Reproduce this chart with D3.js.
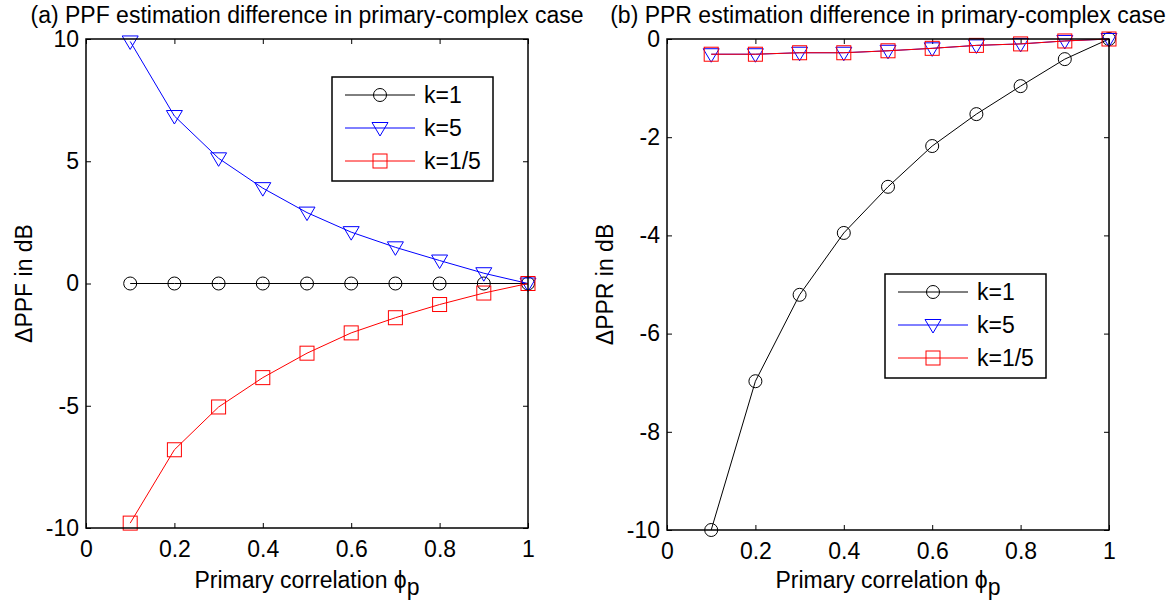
<!DOCTYPE html>
<html>
<head>
<meta charset="utf-8">
<script src="https://cdn.jsdelivr.net/npm/d3@7"></script>
<style>
  body { margin: 0; background: #fff; }
  text { font-family: "Liberation Sans", Arial, sans-serif; fill: #000; }
</style>
</head>
<body>
<svg id="chart" width="1172" height="606"></svg>
<script>
// primary correlation values
const phi = [0.1, 0.2, 0.3, 0.4, 0.5, 0.6, 0.7, 0.8, 0.9, 1.0];
const xTicks = [0, 0.2, 0.4, 0.6, 0.8, 1];

// (a) PPF difference
const ppfK1 = [0, 0, 0, 0, 0, 0, 0, 0, 0, 0];
const ppfK5 = [9.9, 6.85, 5.12, 3.9, 2.9, 2.1, 1.48, 0.94, 0.42, 0];
const ppfK15 = [-9.8, -6.8, -5.05, -3.85, -2.85, -2.02, -1.4, -0.86, -0.39, 0];
const ppfTicks = [-10, -5, 0, 5, 10];

// (b) PPR difference
const pprK1 = [-10, -6.97, -5.21, -3.95, -3.01, -2.18, -1.53, -0.96, -0.41, 0];
const pprK5 = [-0.31, -0.31, -0.28, -0.28, -0.24, -0.19, -0.13, -0.1, -0.04, 0];
const pprK15 = [-0.31, -0.31, -0.28, -0.28, -0.24, -0.19, -0.13, -0.1, -0.04, 0];
const pprTicks = [-10, -8, -6, -4, -2, 0];

const seriesNames = ["k=1", "k=5", "k=1/5"];
const seriesColors = ["#000000", "#0000ff", "#ff0000"];
const seriesMarkers = ["circle", "triangle", "square"];

const FS = 23;
const svg = d3.select("#chart");

function drawMarker(g, type, x, y, color) {
    if (type === "circle") {
        g.append("circle").attr("cx", x).attr("cy", y).attr("r", 6.5)
            .attr("fill", "none").attr("stroke", color).attr("stroke-width", 1);
    } else if (type === "triangle") {
        g.append("path")
            .attr("d", `M${x - 8},${y - 5.5}L${x + 8},${y - 5.5}L${x},${y + 8}Z`)
            .attr("fill", "none").attr("stroke", color).attr("stroke-width", 1);
    } else {
        g.append("rect").attr("x", x - 7).attr("y", y - 7).attr("width", 14).attr("height", 14)
            .attr("fill", "none").attr("stroke", color).attr("stroke-width", 1);
    }
}

function drawPanel(opt) {
    const { left, right, top, bottom, yDomain, yTicks, series, title, yLabel, legend } = opt;
    const x = d3.scaleLinear().domain([0, 1]).range([left, right]);
    const y = d3.scaleLinear().domain(yDomain).range([bottom, top]);
    const g = svg.append("g");
    const fmt = d => String(d);

    // inward ticks on all four sides
    const tickLen = 5;
    g.append("g").attr("transform", `translate(0,${bottom})`)
        .call(d3.axisBottom(x).tickValues(xTicks).tickSizeInner(-tickLen).tickSizeOuter(0).tickPadding(13).tickFormat(fmt))
        .call(s => s.select(".domain").remove())
        .call(s => s.selectAll("text").attr("dy", "0.71em"));
    g.append("g").attr("transform", `translate(0,${top})`)
        .call(d3.axisTop(x).tickValues(xTicks).tickSizeInner(-tickLen).tickSizeOuter(0).tickFormat(""))
        .call(s => s.select(".domain").remove());
    g.append("g").attr("transform", `translate(${left},0)`)
        .call(d3.axisLeft(y).tickValues(yTicks).tickSizeInner(-tickLen).tickSizeOuter(0).tickPadding(7).tickFormat(fmt))
        .call(s => s.select(".domain").remove());
    g.append("g").attr("transform", `translate(${right},0)`)
        .call(d3.axisRight(y).tickValues(yTicks).tickSizeInner(-tickLen).tickSizeOuter(0).tickFormat(""))
        .call(s => s.select(".domain").remove());
    g.selectAll(".tick line").attr("stroke", "#000");
    g.selectAll(".tick text").attr("fill", "#000")
        .style("font-family", "'Liberation Sans', Arial, sans-serif").style("font-size", FS + "px");

    // series
    const line = d3.line().x((d, i) => x(phi[i])).y(d => y(d));
    series.forEach((vals, k) => {
        g.append("path").datum(vals).attr("d", line)
            .attr("fill", "none").attr("stroke", seriesColors[k]).attr("stroke-width", 1);
        vals.forEach((v, i) => drawMarker(g, seriesMarkers[k], x(phi[i]), y(v), seriesColors[k]));
    });

    // axes box
    g.append("rect").attr("x", left).attr("y", top)
        .attr("width", right - left).attr("height", bottom - top)
        .attr("fill", "none").attr("stroke", "#000").attr("stroke-width", 1.5);

    // title and labels
    g.append("text").attr("x", (left + right) / 2).attr("y", 23)
        .attr("text-anchor", "middle").attr("font-size", FS).text(title);
    const xl = g.append("text").attr("x", (left + right) / 2).attr("y", 588)
        .attr("text-anchor", "middle").attr("font-size", FS);
    xl.append("tspan").text("Primary correlation ϕ");
    xl.append("tspan").attr("dy", 7).text("p");
    g.append("text")
        .attr("transform", `translate(${left - 54},${(top + bottom) / 2}) rotate(-90)`)
        .attr("text-anchor", "middle").attr("font-size", FS).text(yLabel);

    // legend
    const lg = g.append("g");
    lg.append("rect").attr("x", legend.x).attr("y", legend.y)
        .attr("width", 161).attr("height", 104)
        .attr("fill", "#fff").attr("stroke", "#000").attr("stroke-width", 1.5);
    seriesNames.forEach((name, k) => {
        const cy = legend.y + 18 + k * 33;
        lg.append("line").attr("x1", legend.x + 13).attr("x2", legend.x + 83)
            .attr("y1", cy).attr("y2", cy)
            .attr("stroke", seriesColors[k]).attr("stroke-width", 1);
        drawMarker(lg, seriesMarkers[k], legend.x + 48, cy, seriesColors[k]);
        lg.append("text").attr("x", legend.x + 92).attr("y", cy).attr("dy", "0.35em")
            .attr("font-size", FS).text(name);
    });
}

drawPanel({
    left: 86, right: 528, top: 39, bottom: 528,
    yDomain: [-10, 10], yTicks: ppfTicks,
    series: [ppfK1, ppfK5, ppfK15],
    title: "(a) PPF estimation difference in primary-complex case",
    yLabel: "ΔPPF in dB",
    legend: { x: 332, y: 77 }
});

drawPanel({
    left: 667, right: 1109, top: 39, bottom: 530,
    yDomain: [-10, 0], yTicks: pprTicks,
    series: [pprK1, pprK5, pprK15],
    title: "(b) PPR estimation difference in primary-complex case",
    yLabel: "ΔPPR in dB",
    legend: { x: 885, y: 274 }
});
</script>
</body>
</html>
